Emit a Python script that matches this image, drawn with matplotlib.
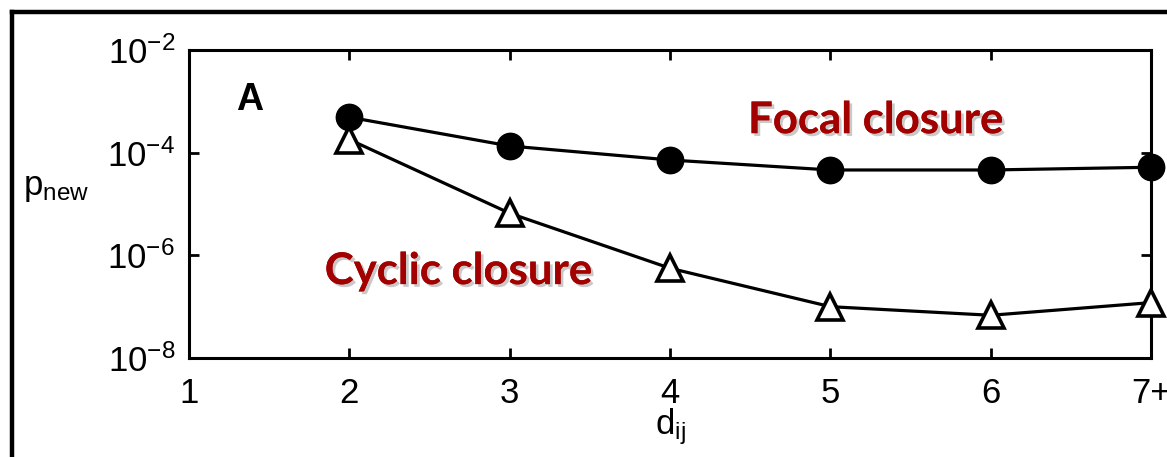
import numpy as np
import matplotlib
matplotlib.use("Agg")
import matplotlib.pyplot as plt
import matplotlib.patheffects as pe
from matplotlib.lines import Line2D

# distance between i and j, and probability of a new tie
d_ij = [2, 3, 4, 5, 6, 7]
tick_pos = [1, 2, 3, 4, 5, 6, 7]
tick_labels = ["1", "2", "3", "4", "5", "6", "7+"]
p_focal = [4.9e-4, 1.35e-4, 7.2e-5, 4.6e-5, 4.6e-5, 5.2e-5]
p_cyclic = [1.8e-4, 6.6e-6, 5.6e-7, 1.0e-7, 6.8e-8, 1.2e-7]

plt.rcParams["font.family"] = ["Liberation Sans", "DejaVu Sans"]
plt.rcParams["mathtext.fontset"] = "custom"
plt.rcParams["mathtext.rm"] = "Liberation Sans"
plt.rcParams["mathtext.it"] = "Liberation Sans"

fig = plt.figure(figsize=(11.67, 4.57), dpi=100)
ax = fig.add_axes([0.162, 0.2166, 0.8244, 0.674])

ax.plot(d_ij, p_focal, "-o", color="black", lw=2.3, ms=19, mfc="black",
        clip_on=False, zorder=3)
ax.plot(d_ij, p_cyclic, "-^", color="black", lw=2.3, ms=19, mfc="white",
        mew=2.6, clip_on=False, zorder=3)

ax.set_yscale("log")
ax.set_xlim(1, 7)
ax.set_ylim(1e-8, 1e-2)
ax.set_xticks(tick_pos)
ax.set_xticklabels(tick_labels)
ax.set_yticks([1e-8, 1e-6, 1e-4, 1e-2])
ax.minorticks_off()
ax.tick_params(direction="in", top=True, right=True, length=7, width=2,
               labelsize=25, pad=10)
ax.tick_params(axis="x", pad=14)
for s in ax.spines.values():
    s.set_linewidth(2.2)

ax.set_xlabel(r"$\mathregular{d_{ij}}$", fontsize=25, labelpad=-3)
ax.set_ylabel(r"$\mathregular{p_{new}}$", fontsize=25, rotation=0)
ax.yaxis.set_label_coords(-0.138, 0.50)

ax.text(0.063, 0.838, "A", transform=ax.transAxes, fontsize=27,
        fontweight="bold", ha="center", va="center")

shadow = [pe.withSimplePatchShadow(offset=(2, -2), shadow_rgbFace="#888888", alpha=0.45),
          pe.Normal()]
ax.text(0.581, 0.730, "Focal closure", transform=ax.transAxes, fontsize=31.5,
        fontweight="bold", color="#a30000", family="Lato", path_effects=shadow)
ax.text(0.141, 0.240, "Cyclic closure", transform=ax.transAxes, fontsize=31.5,
        fontweight="bold", color="#a30000", family="Lato", path_effects=shadow)

# black frame along the top and left edge
fig.add_artist(Line2D([0.0103, 0.0103], [0.0, 0.974], color="black", lw=3.2,
                      transform=fig.transFigure))
fig.add_artist(Line2D([0.0103, 1.0], [0.974, 0.974], color="black", lw=3.2,
                      transform=fig.transFigure))

fig.savefig("out.png", dpi=100, facecolor="white")
